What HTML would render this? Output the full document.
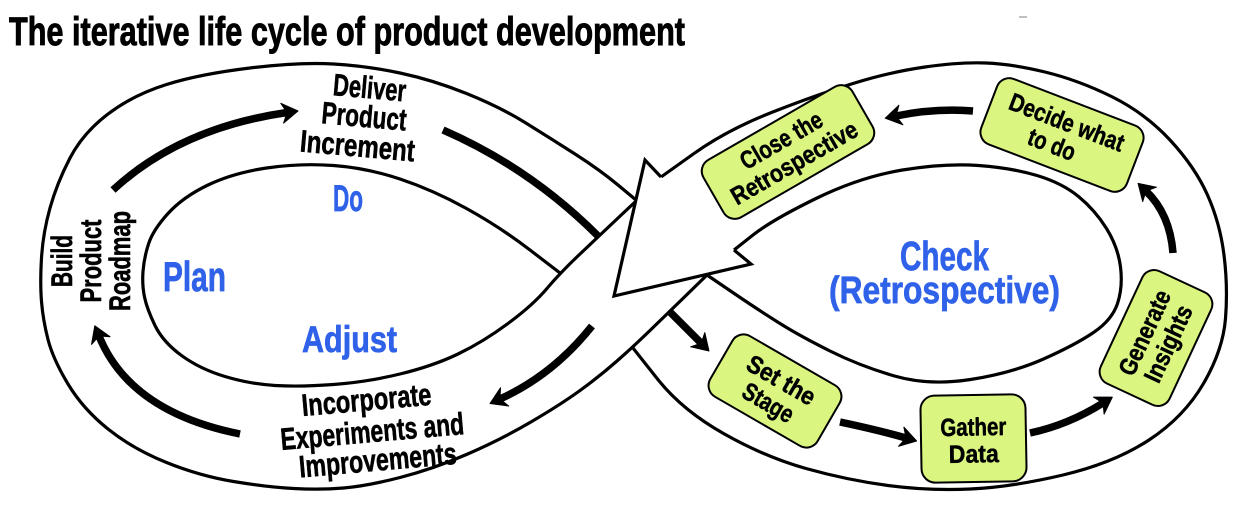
<!DOCTYPE html>
<html>
<head>
<meta charset="utf-8">
<style>
  html, body { margin: 0; padding: 0; background: #fff; }
  body { width: 1245px; height: 509px; overflow: hidden; }
  svg { display: block; }
  text { font-family: "Liberation Sans", sans-serif; font-weight: 700; }
</style>
</head>
<body>
<svg width="1245" height="509" viewBox="0 0 1245 509" xmlns="http://www.w3.org/2000/svg">
  <rect width="1245" height="509" fill="#fff"/>

  <!-- Title -->
  <text x="9" y="45" font-size="40" textLength="676" lengthAdjust="spacingAndGlyphs" fill="#000" stroke="#000" stroke-width="0.9">The iterative life cycle of product development</text>
  <line x1="1019" y1="17" x2="1027" y2="17" stroke="#aaa" stroke-width="1.5"/>

  <!-- Infinity band edges -->
  <g fill="none" stroke="#000" stroke-width="3.2" stroke-linejoin="round" stroke-linecap="butt">
    <path d="M636,200 L618,185 Q600,170 575,154 Q550,138 525,122.5 Q500,107 466.5,93.5 Q433,80 400,73 Q367,66 333.5,64 Q300,62 250,68 Q200,74 166.5,84.5 Q133,95 108,114 Q83,133 70,158 Q57,183 50,208 Q43,233 41.5,258 Q40,283 41.5,301.5 Q43,320 48,339.5 Q53,359 68,384 Q83,409 108,429 Q133,449 166.5,462.5 Q200,476 233.5,481.5 Q267,487 293.5,488.5 Q320,490 343.5,488 Q367,486 400,477.5 Q433,469 466.5,454.5 Q500,440 530,422.5 Q560,405 580,390.5 Q600,376 617,361 Q634,346 650.5,330 Q667,314 687,294.5 L707,275"/>
    <path d="M635,202 L617.5,218.5 Q600,235 580,254 Q560,273 546.5,289 Q533,305 508,323.5 Q483,342 458,354 Q433,366 400,374 Q367,382 333.5,384.5 Q300,387 275,385.5 Q250,384 225,376.5 Q200,369 181.5,355.5 Q163,342 155,325.5 Q147,309 144.5,297 Q142,285 143,271.5 Q144,258 148.5,244 Q153,230 168,213.5 Q183,197 208,185 Q233,173 266.5,168 Q300,163 333.5,165.5 Q367,168 400,179 Q433,190 466.5,208.5 Q500,227 530,250 L560,273"/>
    <path d="M661,177 L694,153.5 Q727,130 771.5,112.5 Q816,95 853,83.5 Q890,72 925,67 Q960,62 986,63 Q1012,64 1045,72 Q1078,80 1111.5,96.5 Q1145,113 1170,140 Q1195,167 1207.5,195 Q1220,223 1224,255 Q1228,287 1225.5,318.5 Q1223,350 1203.5,383.5 Q1184,417 1149,440 Q1114,463 1063,475 Q1012,487 970.5,489 Q929,491 888,485.5 Q847,480 806,468.5 Q765,457 723.5,433.5 Q682,410 657.5,379 L633,348"/>
    <path d="M734,250 L753,235 Q772,220 816,198.5 Q860,177 902.5,170 Q945,163 978.5,165.5 Q1012,168 1037,175.5 Q1062,183 1078.5,196.5 Q1095,210 1106.5,228.5 Q1118,247 1120.5,267 Q1123,287 1117.5,303.5 Q1112,320 1093.5,332.5 Q1075,345 1043.5,359 Q1012,373 970.5,379.5 Q929,386 894.5,376 Q860,366 830,351 Q800,336 780,323.5 Q760,311 733.5,293 L707,275"/>
  </g>

  <!-- Big arrowhead at crossing -->
  <path d="M661,177 L645,160 L614,296 L751,264 L734,250 Z" fill="#fff" stroke="none"/>
  <path d="M661,177 L645,160 L614,296 L751,264 L734,250" fill="none" stroke="#000" stroke-width="3.2" stroke-linejoin="miter"/>

  <!-- Thick flow arrows -->
  <g fill="none" stroke="#000" stroke-width="7.5" stroke-linecap="butt">
    <path d="M113,190 Q180,128 287,112.5"/>
    <path d="M443,130 Q530,168 598,236"/>
    <path d="M670,312 L701,343"/>
    <path d="M840,422 Q878,430 906,438"/>
    <path d="M1030,433 Q1068,425 1103,403"/>
    <path d="M1173,253 Q1170,214 1146,191"/>
    <path d="M973,111 Q935,108 896,116"/>
    <path d="M592,326 Q553,375 500,399"/>
    <path d="M240,434 Q130,412 99,336"/>
  </g>
  <g fill="#000" stroke="#000" stroke-width="1" stroke-linejoin="round">
    <polygon points="298,111 283.6,123.1 287,112.5 280.8,103.3"/>
    <polygon points="709,351 690.6,346.8 701.2,343.2 704.8,332.6"/>
    <polygon points="916.6,441 898.5,446.3 906,438 903.9,427.1"/>
    <polygon points="1112.3,397.1 1104.1,414.1 1103,403 1093.4,397.1"/>
    <polygon points="1138.1,183.4 1156.5,187.2 1146,191 1142.7,201.6"/>
    <polygon points="885.2,118.2 898.9,105.2 896,116 902.9,124.8"/>
    <polygon points="490,403.5 500.5,387.8 500,399 508.7,406"/>
    <polygon points="94.8,325.8 110.1,336.8 99,336 91.5,344.4"/>
  </g>

  <!-- Blue phase labels -->
  <g fill="#2f62e8" stroke="#2f62e8" stroke-width="0.7">
    <text x="333" y="211" font-size="37" textLength="30" lengthAdjust="spacingAndGlyphs">Do</text>
    <text x="163" y="291" font-size="42" textLength="63" lengthAdjust="spacingAndGlyphs">Plan</text>
    <text x="302" y="352" font-size="37" textLength="95" lengthAdjust="spacingAndGlyphs">Adjust</text>
    <text x="900" y="270" font-size="41" textLength="89" lengthAdjust="spacingAndGlyphs">Check</text>
    <text x="829" y="303" font-size="38" textLength="231" lengthAdjust="spacingAndGlyphs">(Retrospective)</text>
  </g>

  <!-- Black band labels -->
  <g fill="#000" stroke="#000" stroke-width="0.6">
    <g transform="rotate(5 365 118)">
      <text x="330.5" y="98" font-size="31" textLength="73" lengthAdjust="spacingAndGlyphs">Deliver</text>
      <text x="321.5" y="127" font-size="31" textLength="85" lengthAdjust="spacingAndGlyphs">Product</text>
      <text x="302.5" y="157" font-size="31" textLength="115" lengthAdjust="spacingAndGlyphs">Increment</text>
    </g>
    <g transform="rotate(-5 373 440)">
      <text x="305" y="410" font-size="31" textLength="130" lengthAdjust="spacingAndGlyphs">Incorporate</text>
      <text x="281" y="442" font-size="31" textLength="184" lengthAdjust="spacingAndGlyphs">Experiments and</text>
      <text x="297" y="471" font-size="31" textLength="158" lengthAdjust="spacingAndGlyphs">Improvements</text>
    </g>
    <text transform="translate(72,261) rotate(-90)" x="-26" y="0" font-size="30" textLength="52" lengthAdjust="spacingAndGlyphs">Build</text>
    <text transform="translate(101,261) rotate(-90)" x="-41.5" y="0" font-size="30" textLength="83" lengthAdjust="spacingAndGlyphs">Product</text>
    <text transform="translate(130,261) rotate(-90)" x="-50" y="0" font-size="30" textLength="100" lengthAdjust="spacingAndGlyphs">Roadmap</text>
  </g>

  <!-- Green retrospective step boxes -->
  <g fill="#000" font-size="25">
    <g transform="translate(788,152) rotate(-30)">
      <rect x="-86" y="-33" width="172" height="66" rx="13" fill="#daf680" stroke="#000" stroke-width="2"/>
      <text x="-45.5" y="-5" textLength="91" lengthAdjust="spacingAndGlyphs" stroke="#000" stroke-width="0.5">Close the</text>
      <text x="-71" y="21" textLength="142" lengthAdjust="spacingAndGlyphs" stroke="#000" stroke-width="0.5">Retrospective</text>
    </g>
    <g transform="translate(1062,135) rotate(21)">
      <rect x="-78" y="-35" width="156" height="70" rx="13" fill="#daf680" stroke="#000" stroke-width="2"/>
      <text x="-60.5" y="-5" textLength="121" lengthAdjust="spacingAndGlyphs" stroke="#000" stroke-width="0.5">Decide what</text>
      <text x="-30.5" y="21" textLength="49" lengthAdjust="spacingAndGlyphs" stroke="#000" stroke-width="0.5">to do</text>
    </g>
    <g transform="translate(775,391) rotate(30)">
      <rect x="-62" y="-35" width="124" height="70" rx="13" fill="#daf680" stroke="#000" stroke-width="2"/>
      <text x="-37.5" y="-4" textLength="75" lengthAdjust="spacingAndGlyphs" stroke="#000" stroke-width="0.5">Set the</text>
      <text x="-27.5" y="22" textLength="55" lengthAdjust="spacingAndGlyphs" stroke="#000" stroke-width="0.5">Stage</text>
    </g>
    <g transform="translate(973.5,438.5) rotate(-1)">
      <rect x="-52.5" y="-43.5" width="105" height="87" rx="14" fill="#daf680" stroke="#000" stroke-width="2"/>
      <text x="-33" y="-3" textLength="66" lengthAdjust="spacingAndGlyphs" stroke="#000" stroke-width="0.5">Gather</text>
      <text x="-25" y="24" textLength="50" lengthAdjust="spacingAndGlyphs" stroke="#000" stroke-width="0.5">Data</text>
    </g>
    <g transform="translate(1156,338) rotate(-65)">
      <rect x="-62" y="-38" width="124" height="76" rx="13" fill="#daf680" stroke="#000" stroke-width="2"/>
      <text x="-45.5" y="-4" textLength="91" lengthAdjust="spacingAndGlyphs" stroke="#000" stroke-width="0.5">Generate</text>
      <text x="-41" y="22" textLength="82" lengthAdjust="spacingAndGlyphs" stroke="#000" stroke-width="0.5">Insights</text>
    </g>
  </g>
</svg>
</body>
</html>
